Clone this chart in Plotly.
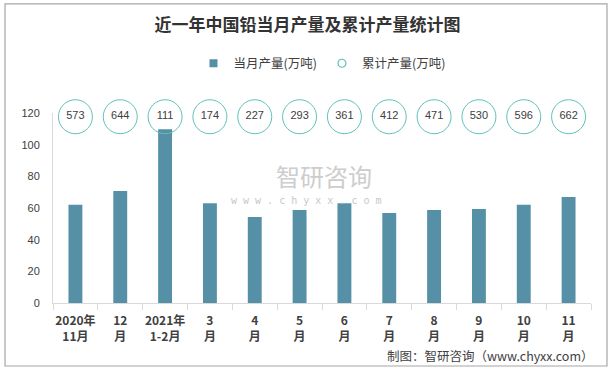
import plotly.graph_objects as go

categories = ["2020年<br>11月", "12<br>月", "2021年<br>1-2月", "3<br>月", "4<br>月", "5<br>月",
              "6<br>月", "7<br>月", "8<br>月", "9<br>月", "10<br>月", "11<br>月"]
monthly = [62, 70.7, 109.7, 63, 54.3, 58.7, 63, 56.8, 58.7, 59.4, 62, 67]
cumulative = [573, 644, 111, 174, 227, 293, 361, 412, 471, 530, 596, 662]
y_ticks = [0, 20, 40, 60, 80, 100, 120]

TXT = "#404040"
FONT = "Noto Sans CJK SC"
BAR_C = "#5690a6"
CIRC_C = "#5ec2b8"

fig = go.Figure()
fig.add_trace(go.Bar(
    x=categories, y=monthly, name="当月产量(万吨)", showlegend=False,
    marker=dict(color=BAR_C, line=dict(width=0)),
))
fig.add_trace(go.Scatter(
    x=categories, y=[1] * len(cumulative), yaxis="y2", name="累计产量(万吨)",
    showlegend=False,
    mode="markers+text", text=[str(v) for v in cumulative],
    textposition="middle center", textfont=dict(size=11, color=TXT, family="Arial"),
    marker=dict(symbol="circle", size=34, color="rgba(255,255,255,0)",
                line=dict(color=CIRC_C, width=1)),
    cliponaxis=False,
))
# legend entries
fig.add_trace(go.Scatter(x=[None], y=[None], mode="markers", name="当月产量(万吨)",
                         marker=dict(symbol="square", size=8, color=BAR_C)))
fig.add_trace(go.Scatter(x=[None], y=[None], mode="markers", name="累计产量(万吨)",
                         marker=dict(symbol="circle-open", size=8, color=CIRC_C,
                                     line=dict(width=1.2))))

fig.update_layout(
    width=615, height=370,
    margin=dict(l=53, r=24, t=113, b=67, autoexpand=False),
    paper_bgcolor="white", plot_bgcolor="white",
    font=dict(family=FONT, color=TXT),
    title=dict(text="<b>近一年中国铅当月产量及累计产量统计图</b>", x=0.5, xanchor="center",
               y=0.932, yanchor="middle", font=dict(size=17, color="#333333", family=FONT)),
    legend=dict(orientation="h", x=0.5, xanchor="center", y=1.26, yanchor="middle",
                font=dict(size=12.5, color=TXT), traceorder="normal", itemwidth=30,
                itemsizing="trace"),
    bargap=0.69,
    showlegend=True,
    xaxis=dict(range=[-0.5, 11.5], showline=True, linecolor="#d9d9d9", linewidth=1,
               ticks="outside", tickson="boundaries", tickcolor="#d9d9d9", ticklen=6,
               tickangle=0, automargin=False, ticklabelstandoff=7,
               tickprefix="<b>", ticksuffix="</b>",
               tickfont=dict(size=12, color=TXT, family=FONT), showgrid=False),
    yaxis=dict(range=[0, 120], tickvals=y_ticks, showline=True, linecolor="#d9d9d9",
               linewidth=1, showgrid=False, zeroline=False, ticks="", automargin=False,
               ticklabelstandoff=10, tickfont=dict(size=11, color=TXT, family="Arial")),
    yaxis2=dict(overlaying="y", range=[0, 1.02], visible=False),
    shapes=[dict(type="rect", xref="paper", yref="paper", x0=-0.0892, x1=1.0297,
                 y0=-0.3316, y1=1.574, line=dict(color="#a6a6a6", width=1.2),
                 fillcolor="rgba(0,0,0,0)", layer="below")],
    annotations=[
        dict(text="制图：智研咨询（www.chyxx.com）", xref="paper", yref="paper",
             x=1.01, y=-0.274, xanchor="right", yanchor="middle", showarrow=False,
             font=dict(size=12.5, color=TXT, family="Noto Sans CJK SC")),
        dict(text="智研咨询", xref="paper", yref="paper", x=0.503, y=0.672,
             xanchor="center", yanchor="middle", showarrow=False,
             font=dict(size=24, color="#cdcdcd", family=FONT)),
        dict(text="w w w . c h y x x . c o m", xref="paper", yref="paper", x=0.472, y=0.54,
             xanchor="center", yanchor="middle", showarrow=False,
             font=dict(size=10, color="#c8c8c8", family="DejaVu Sans Mono")),
    ],
)

fig.write_html("out.html", post_script="document.body.style.margin='0';",
               config={"displayModeBar": False})
